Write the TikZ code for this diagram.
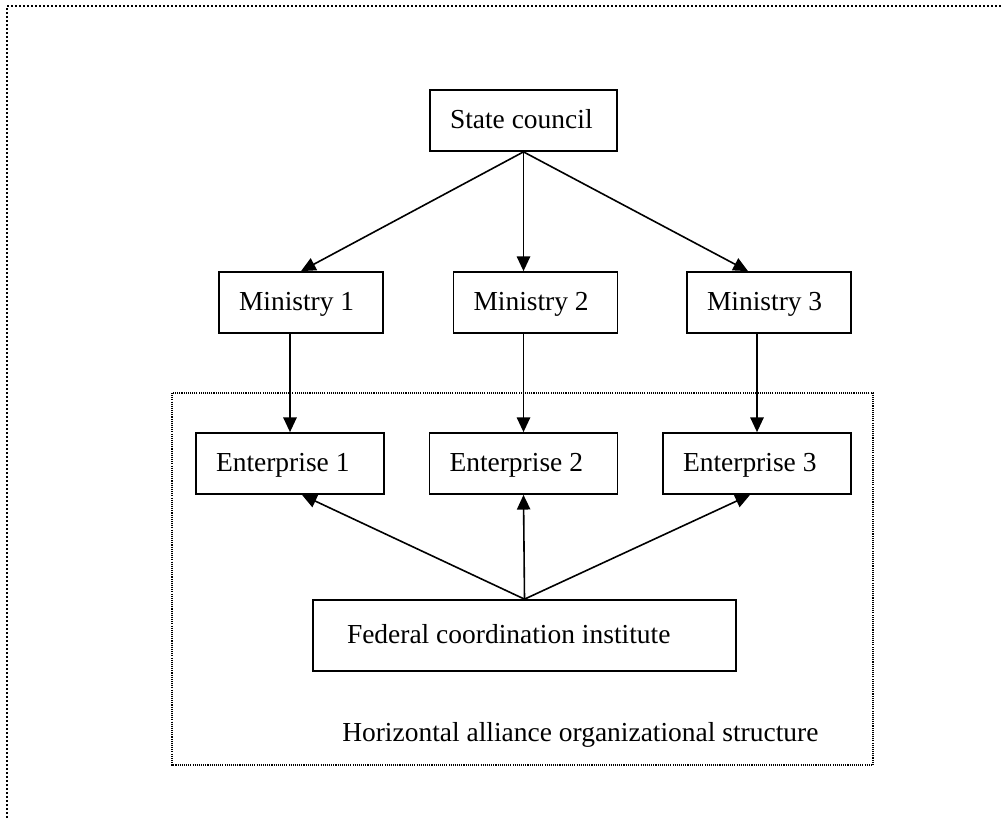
\documentclass[tikz,border=0pt]{standalone}
\usepackage{fontspec}
\setmainfont{Liberation Serif}
\usetikzlibrary{arrows.meta}

\begin{document}
\begin{tikzpicture}[x=0.75pt,y=-0.75pt,
  box/.style={draw,line width=1.3pt,inner xsep=15pt,inner ysep=0pt,minimum height=45.75pt,align=flush left,text height=1.2em,text depth=0em,font=\fontsize{20.6}{24}\selectfont},
  link/.style={line width=1.2pt,-{Triangle[length=11pt,width=10pt]}}]
  \useasboundingbox (0,0) rectangle (1003,818);
  \draw[line width=1.5pt,dash pattern=on 1.5pt off 1.5pt] (7,818) -- (7,6) -- (1003,6);
  \draw[line width=0.8pt,dash pattern=on 0.8pt off 0.8pt] (172,393) rectangle (873,765);
  \node[box,text width=110.25pt] (council) at (523.5,120.5) {State council};
  \node[box,text width=93pt] (m1) at (301,302.5) {Ministry 1};
  \node[box,text width=93pt] (m2) at (535.5,302.5) {Ministry 2};
  \node[box,text width=93pt] (m3) at (769,302.5) {Ministry 3};
  \node[box,text width=111pt] (e1) at (290,463.5) {Enterprise 1};
  \node[box,text width=111pt] (e2) at (523.5,463.5) {Enterprise 2};
  \node[box,text width=111pt] (e3) at (757,463.5) {Enterprise 3};
  \node[box,inner xsep=25.5pt,text width=266.25pt,minimum height=53.25pt] (fed) at (524.5,635.5) {Federal coordination institute};
  \node[anchor=base west,inner sep=0pt,font=\fontsize{20.6}{24}\selectfont] (caption) at (342,741) {Horizontal alliance organizational structure};
  \draw[link](council.south)--(m1.north);
  \draw[link](council.south)--(council.south |- m2.north);
  \draw[link](council.south)--([xshift=-15.75pt]m3.north);
  \draw[link](m1.south -| e1.north)--(e1.north);
  \draw[link](m2.south -| e2.north)--(e2.north);
  \draw[link](m3.south -| e3.north)--(e3.north);
  \draw[link](fed.north)--([xshift=9pt]e1.south);
  \draw[link](fed.north)--(e2.south);
  \draw[link](fed.north)--([xshift=-5.25pt]e3.south);
\end{tikzpicture}
\end{document}
